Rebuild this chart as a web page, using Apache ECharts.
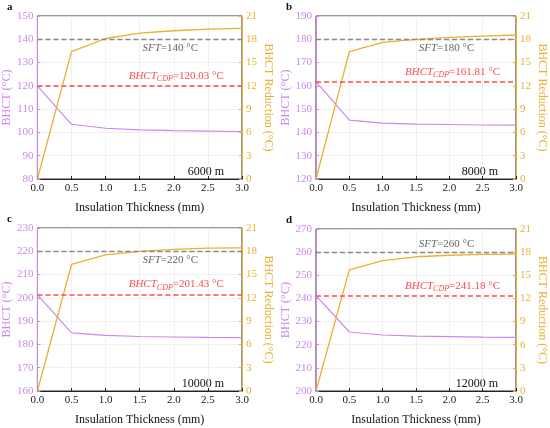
<!DOCTYPE html>
<html>
<head>
<meta charset="utf-8">
<script src="https://cdn.jsdelivr.net/npm/echarts@6/dist/echarts.min.js"></script>
<style>
html,body{margin:0;padding:0;background:#fff;}
#chart{width:550px;height:428px;}
</style>
</head>
<body>
<div id="chart"></div>
<script>
var thickness = [0, 0.5, 1.0, 1.5, 2.0, 2.5, 3.0];
var panelLetters = ['a', 'b', 'c', 'd'];
var depthLabels = ['6000 m', '8000 m', '10000 m', '12000 m'];
var bhctMin = [80, 120, 160, 200];
var bhctMax = [150, 190, 230, 270];
var sftValues = [140, 180, 220, 260];
var cdpValues = [120.03, 161.81, 201.43, 241.18];

var bhct6000 = [120.03, 103.5, 101.8, 101.1, 100.8, 100.6, 100.4];
var bhct8000 = [161.81, 145.3, 144.0, 143.6, 143.4, 143.2, 143.1];
var bhct10000 = [201.43, 185.0, 183.9, 183.4, 183.2, 183.0, 182.9];
var bhct12000 = [241.18, 225.5, 224.2, 223.7, 223.5, 223.3, 223.2];

var reduction6000 = [0, 16.4, 18.1, 18.8, 19.1, 19.3, 19.4];
var reduction8000 = [0, 16.4, 17.6, 18.0, 18.25, 18.4, 18.55];
var reduction10000 = [0, 16.3, 17.55, 18.0, 18.25, 18.4, 18.45];
var reduction12000 = [0, 15.7, 16.9, 17.4, 17.6, 17.7, 17.75];

var bhctAll = [bhct6000, bhct8000, bhct10000, bhct12000];
var reductionAll = [reduction6000, reduction8000, reduction10000, reduction12000];

var FONT = '"Times New Roman", "Liberation Serif", serif';
var PURPLE = '#cc88ee';
var ORANGE = '#ebb030';
var RED = '#ff4a4a';
var GRAY = '#666666';

// grid boxes for the 4 panels
var boxes = [
    {left: 37, top: 16, width: 205, height: 163},
    {left: 316, top: 16, width: 200, height: 163},
    {left: 37, top: 228, width: 205, height: 163},
    {left: 316, top: 229, width: 200, height: 162}
];
var sftAbove = [false, false, false, true];

var grids = [], xAxes = [], yAxes = [], series = [], graphics = [];

// empty series on the left axis that only carries a dashed reference line + its label
function refLine(i, value, color, width, label) {
    return {
        type: 'line', xAxisIndex: i, yAxisIndex: i * 2, data: [],
        silent: true, z: 2,
        markLine: {
            silent: true, symbol: 'none', animation: false,
            lineStyle: {color: color, type: [5, 3], width: width},
            label: label,
            data: [{yAxis: value}]
        }
    };
}

boxes.forEach(function (b, i) {
    grids.push({
        left: b.left, top: b.top, width: b.width, height: b.height,
        show: true, borderColor: '#333', borderWidth: 1
    });
    xAxes.push({
        type: 'value', gridIndex: i, min: 0, max: 3, interval: 0.5,
        name: 'Insulation Thickness (mm)', nameLocation: 'middle', nameGap: 23,
        nameTextStyle: {fontFamily: FONT, fontSize: 12, color: '#111'},
        axisLine: {lineStyle: {color: '#222'}},
        axisTick: {inside: true, length: 3, lineStyle: {color: '#222'}},
        axisLabel: {fontFamily: FONT, fontSize: 11, color: '#222', margin: 4,
            formatter: function (v) { return v.toFixed(1); }},
        splitLine: {show: true, lineStyle: {color: '#ececec', width: 0.8}}
    });
    yAxes.push({
        type: 'value', gridIndex: i, min: bhctMin[i], max: bhctMax[i], interval: 10,
        name: 'BHCT (°C)', nameLocation: 'middle', nameGap: 24,
        nameTextStyle: {fontFamily: FONT, fontSize: 12, color: PURPLE},
        axisLine: {show: true, lineStyle: {color: PURPLE}},
        axisTick: {show: true, inside: true, length: 3, lineStyle: {color: PURPLE}},
        axisLabel: {fontFamily: FONT, fontSize: 11, color: PURPLE, margin: 4},
        splitLine: {show: true, lineStyle: {color: '#ececec', width: 0.8}}
    });
    yAxes.push({
        type: 'value', gridIndex: i, position: 'right', min: 0, max: 21, interval: 3,
        name: 'BHCT Reduction (°C)', nameLocation: 'middle', nameGap: 20,
        nameRotate: -90,
        nameTextStyle: {fontFamily: FONT, fontSize: 12, color: ORANGE},
        axisLine: {show: true, lineStyle: {color: ORANGE}},
        axisTick: {show: true, inside: true, length: 3, lineStyle: {color: ORANGE}},
        axisLabel: {fontFamily: FONT, fontSize: 11, color: ORANGE, margin: 4},
        splitLine: {show: false}
    });

    series.push(refLine(i, sftValues[i], '#888888', 1.3, {
        position: sftAbove[i] ? 'insideMiddleTop' : 'insideMiddleBottom',
        distance: 3, padding: [0, 0, 0, 61],
        formatter: '{i|SFT}{n|=' + sftValues[i] + ' °C}',
        rich: {
            i: {fontFamily: FONT, fontStyle: 'italic', fontSize: 11, color: GRAY},
            n: {fontFamily: FONT, fontSize: 11, color: GRAY}
        }
    }));
    series.push(refLine(i, cdpValues[i], RED, 1.6, {
        position: 'insideMiddleTop', distance: 3, padding: [0, 0, 0, 73],
        formatter: '{i|BHCT}{s|CDP}{n|=' + cdpValues[i].toFixed(2) + ' °C}',
        rich: {
            i: {fontFamily: FONT, fontStyle: 'italic', fontSize: 11, color: RED},
            s: {fontFamily: FONT, fontStyle: 'italic', fontSize: 8, color: RED,
                verticalAlign: 'bottom', padding: [6, 0, 0, 0]},
            n: {fontFamily: FONT, fontSize: 11, color: RED}
        }
    }));
    series.push({
        type: 'line', xAxisIndex: i, yAxisIndex: i * 2,
        data: thickness.map(function (x, k) { return [x, bhctAll[i][k]]; }),
        showSymbol: false, lineStyle: {color: PURPLE, width: 1.2}, itemStyle: {color: PURPLE},
        z: 3
    });
    series.push({
        type: 'line', xAxisIndex: i, yAxisIndex: i * 2 + 1,
        data: thickness.map(function (x, k) { return [x, reductionAll[i][k]]; }),
        showSymbol: false, lineStyle: {color: ORANGE, width: 1.3}, itemStyle: {color: ORANGE},
        z: 4
    });

    graphics.push({
        type: 'text', left: b.left - 30, top: b.top - 14,
        style: {text: panelLetters[i], font: 'bold 11px ' + FONT, fill: '#111'}
    });
    graphics.push({
        type: 'text', right: 550 - (b.left + b.width) + 18, top: b.top + b.height - 13,
        style: {text: depthLabels[i], font: '12px ' + FONT, fill: '#111'}
    });
});

var chart = echarts.init(document.getElementById('chart'));
chart.setOption({
    animation: false,
    backgroundColor: '#fff',
    grid: grids,
    xAxis: xAxes,
    yAxis: yAxes,
    series: series,
    graphic: graphics
});
</script>
</body>
</html>
